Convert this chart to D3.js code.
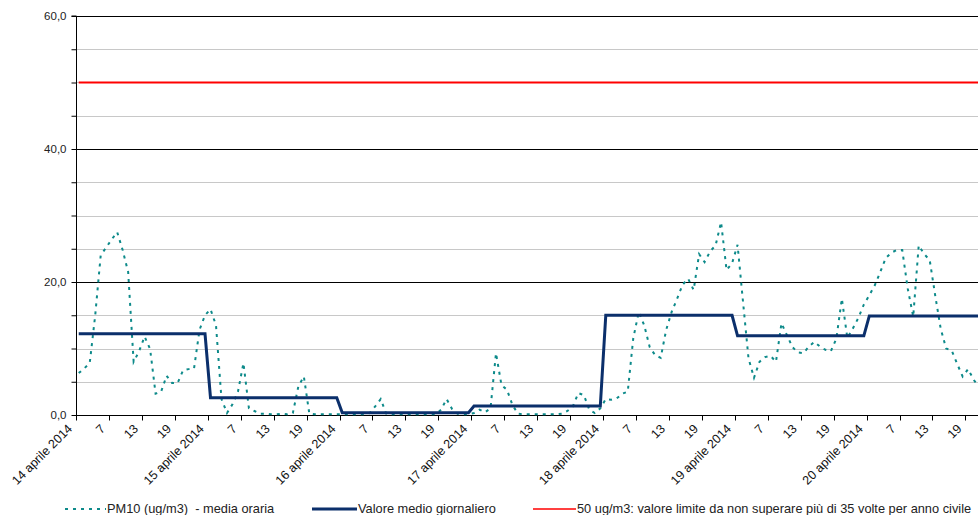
<!DOCTYPE html>
<html lang="it">
<head>
    <meta charset="UTF-8">
    <title>PM10 - media oraria</title>
    <script src="https://d3js.org/d3.v7.min.js"></script>
    <style>
        body { margin: 0; background: #fff; }
        text { font-family: "Liberation Sans", Arial, sans-serif; white-space: pre; }
    </style>
</head>
<body>
<div id="chart"></div>
<script>
    // days shown on the category axis
    const days = ['14 aprile 2014', '15 aprile 2014', '16 aprile 2014', '17 aprile 2014',
                  '18 aprile 2014', '19 aprile 2014', '20 aprile 2014'];
    const hourLabels = ['7', '13', '19'];

    // PM10 hourly means (ug/m3), one array per day
    const pm10Day14 = [6.3, 7.0, 7.8, 15.0, 24.0, 25.2, 26.4, 27.5, 24.8, 21.5, 8.0, 9.6,
                       11.8, 9.9, 3.2, 3.5, 5.9, 4.8, 4.8, 6.7, 6.9, 7.0, 12.8, 15.0];
    const pm10Day15 = [15.9, 13.5, 2.4, 0.3, 1.6, 3.5, 7.8, 1.0, 0.6, 0.2, 0.2, 0.1,
                       0.1, 0.2, 0.1, 0.3, 4.3, 5.8, 0.2, 0.1, 0.1, 0.1, 0.1, 0.1];
    const pm10Day16 = [0.1, 0.1, 0.1, 0.1, 0.1, 0.3, 1.3, 2.4, 0.2, 0.1, 0.1, 0.1,
                       0.1, 0.1, 0.1, 0.1, 0.1, 0.1, 0.8, 2.4, 0.9, 0.2, 0.1, 0.1];
    const pm10Day17 = [0.3, 0.8, 0.4, 1.0, 9.3, 4.5, 3.8, 1.5, 0.2, 0.1, 0.1, 0.1,
                       0.1, 0.1, 0.1, 0.1, 0.2, 0.6, 1.3, 3.3, 3.0, 0.8, 0.3, 1.0];
    const pm10Day18 = [2.4, 2.3, 2.5, 3.2, 3.5, 11.5, 15.5, 13.5, 10.2, 9.0, 8.6, 12.8,
                       15.5, 17.5, 19.6, 20.5, 18.8, 24.2, 23.0, 24.6, 25.5, 29.0, 21.8, 22.8];
    const pm10Day19 = [25.6, 17.0, 8.5, 5.6, 8.0, 8.7, 8.9, 8.0, 13.8, 12.0, 10.2, 9.4,
                       9.3, 10.3, 11.0, 10.3, 9.8, 9.6, 11.5, 17.5, 11.6, 13.0, 14.6, 16.6];
    const pm10Day20 = [18.0, 19.5, 21.5, 23.6, 24.4, 24.8, 24.8, 19.0, 14.8, 25.5, 24.2, 23.3,
                       18.0, 13.0, 10.0, 9.7, 7.7, 5.8, 6.9, 5.3, 4.2, 4.0, 4.0, 4.0];

    // daily mean of each day
    const dailyMean = [12.2, 2.6, 0.35, 1.35, 15.0, 11.9, 14.9];
    const limitValue = 50;

    const yTicks = [0, 5, 10, 15, 20, 25, 30, 35, 40, 45, 50, 55, 60];
    const yLabelTicks = [0, 20, 40, 60];

    const legendLabels = ['PM10 (ug/m3)  - media oraria', 'Valore medio giornaliero',
                          '50 ug/m3: valore limite da non superare più di 35 volte per anno civile'];

    const hourly = [pm10Day14, pm10Day15, pm10Day16, pm10Day17, pm10Day18, pm10Day19, pm10Day20].flat();
    const daily = dailyMean.flatMap(v => d3.range(24).map(() => v));
    const limit = hourly.map(() => limitValue);

    const width = 978, height = 515;
    const hourPx = 5.49;
    const nHours = hourly.length;

    const svg = d3.select('#chart').append('svg')
        .attr('width', width)
        .attr('height', height);

    const x = d3.scaleLinear().domain([0, nHours]).range([76, 76 + nHours * hourPx]);
    const y = d3.scaleLinear().domain([0, 60]).range([415, 16]);

    // horizontal grid: black on 20s, light grey otherwise
    svg.append('g')
        .selectAll('line')
        .data(yTicks.filter(t => t > 0))
        .enter()
        .append('line')
        .attr('x1', x(0))
        .attr('x2', x(nHours))
        .attr('y1', d => Math.round(y(d)) + 0.5)
        .attr('y2', d => Math.round(y(d)) + 0.5)
        .attr('stroke', d => d % 20 === 0 ? '#000' : '#c8c8c8')
        .attr('stroke-width', 1);

    // y axis
    const yAxis = d3.axisLeft(y)
        .tickValues(yTicks)
        .tickSize(5)
        .tickFormat(d => yLabelTicks.includes(d) ? d3.format('.1f')(d).replace('.', ',') : '');
    svg.append('g')
        .attr('transform', `translate(${x(0) + 0.5},0)`)
        .call(yAxis)
        .call(g => g.select('.domain').attr('d', `M-5,${y(60)}H0V${y(0)}`))
        .call(g => g.selectAll('text').attr('font-size', 11.5).attr('fill', '#222').attr('x', -10));

    // x axis: ticks every 6 hours
    const tickIdx = d3.range(0, nHours / 6 + 1);
    const xAxis = svg.append('g').attr('transform', `translate(0,${y(0) + 0.5})`);
    xAxis.append('line')
        .attr('x1', x(0)).attr('x2', x(nHours))
        .attr('stroke', '#000');
    xAxis.selectAll('.xtick')
        .data(tickIdx)
        .enter()
        .append('line')
        .attr('x1', k => Math.round(x(k * 6)) + 0.5)
        .attr('x2', k => Math.round(x(k * 6)) + 0.5)
        .attr('y1', 0)
        .attr('y2', 5)
        .attr('stroke', '#000');
    xAxis.selectAll('.xlabel')
        .data(tickIdx.filter(k => k < nHours / 6))
        .enter()
        .append('text')
        .attr('transform', k => `translate(${x(k * 6) - 3},14) rotate(-45)`)
        .attr('text-anchor', 'end')
        .attr('font-size', 12.5)
        .attr('fill', '#111')
        .text(k => k % 4 === 0 ? days[k / 4] : hourLabels[k % 4 - 1]);

    const line = d3.line()
        .x((d, i) => x(i + 0.5))
        .y(d => y(d));

    svg.append('path')
        .datum(limit)
        .attr('d', line)
        .attr('fill', 'none')
        .attr('stroke', '#ff0000')
        .attr('stroke-width', 2);

    svg.append('path')
        .datum(hourly)
        .attr('d', line)
        .attr('fill', 'none')
        .attr('stroke', '#0d8a8a')
        .attr('stroke-width', 2)
        .attr('stroke-dasharray', '3,5');

    svg.append('path')
        .datum(daily)
        .attr('d', line)
        .attr('fill', 'none')
        .attr('stroke', '#0b2f6b')
        .attr('stroke-width', 3);

    // legend
    const legendItems = [
        {x: 65, len: 41, color: '#0d8a8a', width: 2, dash: '3,5'},
        {x: 312, len: 45, color: '#0b2f6b', width: 3, dash: null},
        {x: 533, len: 43, color: '#ff0000', width: 1.5, dash: null}
    ];
    const legend = svg.append('g').attr('class', 'legend');
    legend.selectAll('line')
        .data(legendItems)
        .enter()
        .append('line')
        .attr('x1', d => d.x)
        .attr('x2', d => d.x + d.len)
        .attr('y1', 509)
        .attr('y2', 509)
        .attr('stroke', d => d.color)
        .attr('stroke-width', d => d.width)
        .attr('stroke-dasharray', d => d.dash);
    legend.selectAll('text')
        .data(legendItems)
        .enter()
        .append('text')
        .attr('x', d => d.x + d.len + 1)
        .attr('y', 513)
        .attr('font-size', 12.8)
        .attr('fill', '#222')
        .text((d, i) => legendLabels[i]);
</script>
</body>
</html>
